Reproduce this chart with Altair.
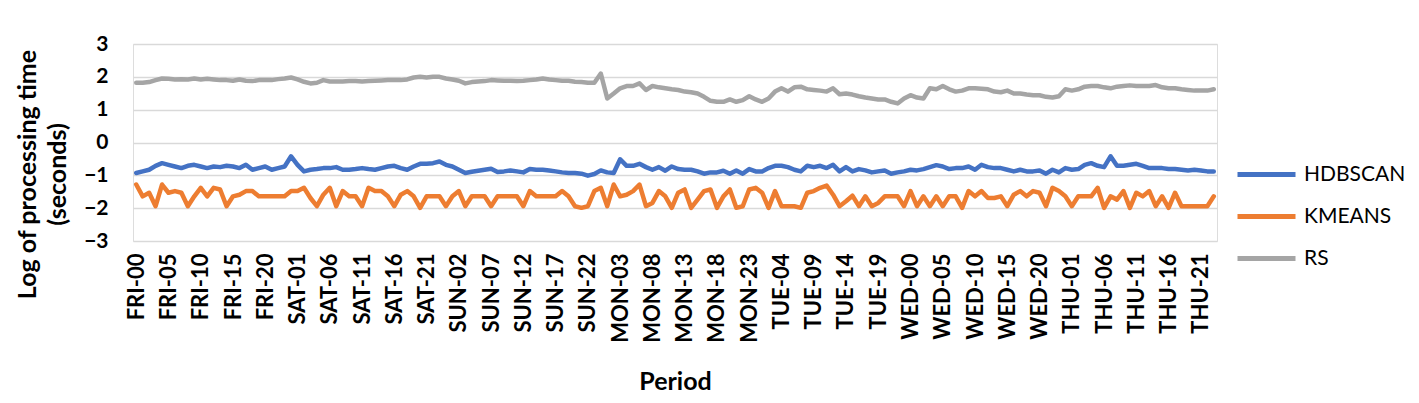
import altair as alt
import pandas as pd

days = ["FRI", "SAT", "SUN", "MON", "TUE", "WED", "THU"]
hours = ["00", "01", "02", "03", "04", "05", "06", "07", "08", "09", "10", "11",
         "12", "13", "14", "15", "16", "17", "18", "19", "20", "21", "22", "23"]
periods = [f"{d}-{h}" for d in days for h in hours]
tick_labels = periods[::5]

series_names = ["HDBSCAN", "KMEANS", "RS"]
series_colors = ["#4472C4", "#ED7D31", "#A5A5A5"]

hdbscan = [
    -0.93, -0.88, -0.83, -0.71, -0.63, -0.68, -0.73, -0.78, -0.71, -0.68, -0.73, -0.78, -0.73, -0.75, -0.71, -0.73, -0.78,
    -0.68, -0.83, -0.78, -0.73, -0.83, -0.78, -0.73, -0.42, -0.68, -0.88, -0.83, -0.81, -0.78, -0.78, -0.75, -0.83, -0.83,
    -0.81, -0.78, -0.81, -0.83, -0.78, -0.73, -0.71, -0.78, -0.83, -0.73, -0.65, -0.65, -0.63, -0.58, -0.68, -0.73, -0.83,
    -0.93, -0.89, -0.86, -0.83, -0.80, -0.90, -0.88, -0.85, -0.88, -0.91, -0.81, -0.83, -0.83, -0.85, -0.88, -0.91,
    -0.93, -0.93, -0.95, -1.01, -0.96, -0.85, -0.91, -0.93, -0.51, -0.71, -0.71, -0.65, -0.75, -0.83, -0.75, -0.86, -0.73,
    -0.81, -0.83, -0.83, -0.88, -0.95, -0.91, -0.91, -0.86, -0.95, -0.85, -0.95, -0.81, -0.88, -0.88, -0.78, -0.71, -0.71,
    -0.75, -0.83, -0.88, -0.71, -0.75, -0.71, -0.78, -0.68, -0.88, -0.75, -0.88, -0.81, -0.85, -0.91, -0.88, -0.85, -0.95,
    -0.91, -0.88, -0.83, -0.85, -0.81, -0.75, -0.69, -0.73, -0.81, -0.78, -0.78, -0.73, -0.83, -0.68, -0.75, -0.78,
    -0.78, -0.83, -0.88, -0.83, -0.88, -0.88, -0.85, -0.95, -0.83, -0.91, -0.78, -0.83, -0.81, -0.68, -0.63, -0.71, -0.75,
    -0.42, -0.71, -0.71, -0.68, -0.65, -0.71, -0.78, -0.78, -0.78, -0.81, -0.81, -0.83, -0.85, -0.83, -0.85, -0.88, -0.88,
]

kmeans = [
    -1.28, -1.64, -1.53, -1.94, -1.28, -1.53, -1.48, -1.53, -1.94, -1.64, -1.38, -1.64, -1.38, -1.43, -1.94, -1.64, -1.59,
    -1.48, -1.48, -1.64, -1.64, -1.64, -1.64, -1.64, -1.48, -1.48, -1.38, -1.69, -1.94, -1.59, -1.38, -1.94, -1.48, -1.64,
    -1.64, -1.94, -1.38, -1.48, -1.48, -1.64, -1.94, -1.59, -1.48, -1.64, -1.99, -1.64, -1.64, -1.64, -1.94, -1.64, -1.48,
    -1.94, -1.64, -1.64, -1.64, -1.94, -1.64, -1.64, -1.64, -1.64, -1.94, -1.48, -1.64, -1.64, -1.64, -1.64, -1.48,
    -1.64, -1.94, -1.99, -1.94, -1.48, -1.38, -1.94, -1.28, -1.64, -1.59, -1.48, -1.28, -1.94, -1.84, -1.48, -1.64, -1.99,
    -1.53, -1.43, -1.99, -1.74, -1.48, -1.43, -1.99, -1.64, -1.43, -1.99, -1.94, -1.43, -1.38, -1.53, -1.99, -1.48, -1.94,
    -1.94, -1.94, -1.99, -1.53, -1.48, -1.38, -1.31, -1.59, -1.94, -1.79, -1.62, -1.94, -1.64, -1.94, -1.84, -1.64, -1.64,
    -1.64, -1.94, -1.48, -1.94, -1.64, -1.94, -1.64, -1.94, -1.64, -1.64, -1.99, -1.48, -1.64, -1.48, -1.69, -1.69,
    -1.64, -1.94, -1.59, -1.48, -1.64, -1.48, -1.53, -1.94, -1.38, -1.48, -1.64, -1.94, -1.64, -1.64, -1.64, -1.38, -1.99,
    -1.64, -1.74, -1.48, -1.99, -1.53, -1.64, -1.48, -1.94, -1.64, -1.99, -1.53, -1.94, -1.94, -1.94, -1.94, -1.94, -1.64,
]

rs = [
    1.82, 1.82, 1.84, 1.90, 1.95, 1.94, 1.92, 1.93, 1.92, 1.95, 1.92, 1.94, 1.92, 1.90, 1.90, 1.88, 1.92,
    1.88, 1.87, 1.90, 1.90, 1.90, 1.93, 1.95, 1.98, 1.92, 1.85, 1.80, 1.82, 1.90, 1.86, 1.86, 1.86, 1.87,
    1.87, 1.86, 1.87, 1.88, 1.89, 1.90, 1.90, 1.90, 1.92, 1.98, 2.00, 1.98, 2.00, 2.00, 1.95, 1.92, 1.88,
    1.80, 1.84, 1.86, 1.87, 1.90, 1.89, 1.88, 1.88, 1.87, 1.88, 1.90, 1.92, 1.95, 1.92, 1.90, 1.88,
    1.88, 1.85, 1.84, 1.82, 1.82, 2.10, 1.34, 1.49, 1.65, 1.72, 1.72, 1.80, 1.60, 1.72, 1.68, 1.65, 1.62,
    1.60, 1.55, 1.53, 1.49, 1.39, 1.27, 1.24, 1.24, 1.31, 1.24, 1.29, 1.41, 1.31, 1.24, 1.34, 1.55, 1.65,
    1.55, 1.68, 1.70, 1.62, 1.60, 1.58, 1.55, 1.65, 1.47, 1.49, 1.46, 1.41, 1.37, 1.34, 1.31, 1.31, 1.24,
    1.19, 1.34, 1.44, 1.37, 1.34, 1.65, 1.62, 1.72, 1.62, 1.55, 1.58, 1.65, 1.65, 1.64, 1.62, 1.55,
    1.53, 1.58, 1.49, 1.49, 1.46, 1.44, 1.44, 1.39, 1.37, 1.41, 1.62, 1.58, 1.62, 1.70, 1.72, 1.72, 1.68,
    1.65, 1.70, 1.72, 1.74, 1.72, 1.72, 1.72, 1.75, 1.68, 1.65, 1.65, 1.62, 1.60, 1.58, 1.58, 1.58, 1.62,
]

y_ticks = [-3, -2, -1, 0, 1, 2, 3]

rows = []
for name, vals in zip(series_names, [hdbscan, kmeans, rs]):
    for p, v in zip(periods, vals):
        rows.append({"Period": p, "Series": name, "Value": v})
df = pd.DataFrame(rows)

FONT = "Lato"

chart = alt.Chart(df).mark_line(strokeWidth=4.5, strokeJoin="round", strokeCap="round").encode(
    x=alt.X(
        "Period:N",
        sort=periods,
        scale=alt.Scale(padding=0.5),
        axis=alt.Axis(
            values=tick_labels,
            title="Period",
            titleFontSize=25,
            titleFontWeight="bold",
            titleFont=FONT,
            titleColor="#000000",
            titlePadding=27,
            labelAngle=-90,
            labelFontSize=22,
            labelFontWeight="bold",
            labelFont=FONT,
            labelColor="#000000",
            labelPadding=12,
            ticks=False,
            domain=False,
            grid=False,
        ),
    ),
    y=alt.Y(
        "Value:Q",
        scale=alt.Scale(domain=[-3, 3], nice=False, zero=False),
        axis=alt.Axis(
            values=y_ticks,
            title=["Log of processing time", "(seconds)"],
            titleFontSize=25,
            titleFontWeight="bold",
            titleFont=FONT,
            titleColor="#000000",
            titleAngle=270,
            titleAlign="center",
            titleBaseline="bottom",
            titleX=-93,
            titleY=130,
            titleLineHeight=30,
            labelFontSize=21,
            labelFontWeight="bold",
            labelFont=FONT,
            labelColor="#000000",
            labelPadding=25,
            ticks=False,
            domain=False,
            grid=True,
            gridColor="#D9D9D9",
            gridWidth=1.5,
        ),
    ),
    color=alt.Color(
        "Series:N",
        scale=alt.Scale(domain=series_names, range=series_colors),
        legend=alt.Legend(
            title=None,
            orient="none",
            legendX=1102,
            legendY=99,
            symbolType="stroke",
            symbolSize=3364,
            symbolStrokeWidth=5,
            labelFontSize=21,
            labelFont=FONT,
            labelColor="#000000",
            labelOffset=6,
            rowPadding=-12,
        ),
    ),
    order=alt.Order("Series:N"),
).properties(
    width=1084,
    height=197,
    autosize=alt.AutoSizeParams(type="none"),
    padding={"left": 125, "top": 36, "right": 194, "bottom": 154},
).configure_view(stroke=None).configure(background="#FFFFFF")

chart.save("out.html", embed_options={"renderer": "svg", "actions": False})
